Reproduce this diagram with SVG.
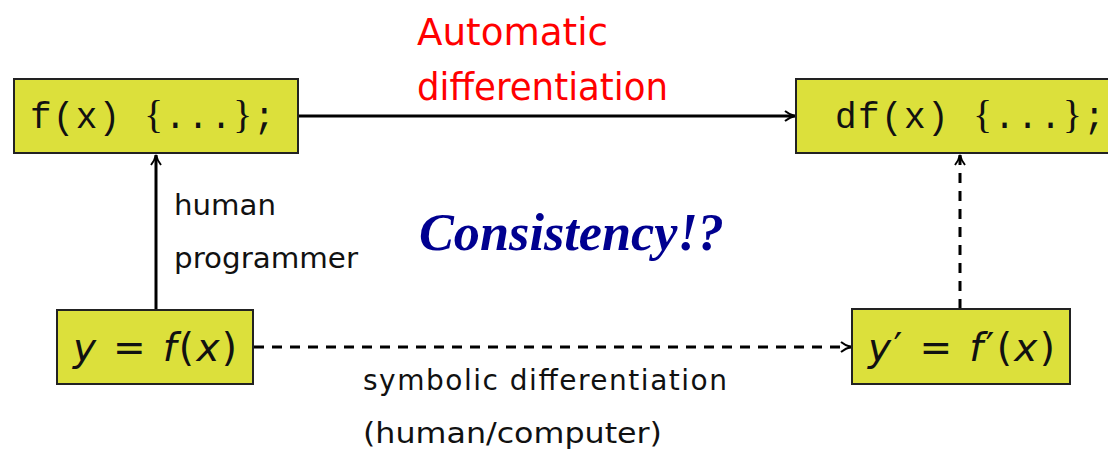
<svg xmlns="http://www.w3.org/2000/svg" width="1108" height="452" viewBox="0 0 1108 452">
<defs>
<style>
.box{fill:#dce03b;stroke:#222;stroke-width:2}
.code{font-family:"Liberation Mono","DejaVu Sans Mono",monospace;font-size:36px;fill:#111}
.br{font-family:"Liberation Serif","DejaVu Serif",serif;font-size:40px}
.lbl{font-family:"DejaVu Sans","Liberation Sans",sans-serif;font-size:28px;fill:#111}
.math{font-family:"DejaVu Sans","Liberation Sans",sans-serif;font-size:39px;fill:#111}
.red{font-family:"DejaVu Sans","Liberation Sans",sans-serif;font-size:37px;fill:#ff0000}
.ln{stroke:#000;stroke-width:3;fill:none}
.dash{stroke-dasharray:10 8}
</style>
<marker id="ah" viewBox="0 0 12 12" refX="11" refY="6" markerWidth="12" markerHeight="12" markerUnits="userSpaceOnUse" orient="auto">
<path d="M1,1 Q6,5 11,6 Q6,7 1,11" fill="none" stroke="#000" stroke-width="2"/>
</marker>
</defs>
<g id="connectors">
<line class="ln" x1="298" y1="116" x2="795" y2="116" marker-end="url(#ah)"/>
<line class="ln" x1="156" y1="310" x2="156" y2="155" marker-end="url(#ah)"/>
<line class="ln dash" x1="960" y1="309" x2="960" y2="155" marker-end="url(#ah)"/>
<line class="ln dash" x1="254" y1="347" x2="851" y2="347" marker-end="url(#ah)"/>
</g>
<g id="node-f">
<rect class="box" x="14" y="79" width="284" height="74"/>
<text class="code" x="30" y="128" textLength="245" lengthAdjust="spacing">f(x) <tspan class="br">{</tspan>...<tspan class="br">}</tspan>;</text>
</g>
<g id="node-df">
<rect class="box" x="796" y="79" width="330" height="74"/>
<text class="code" x="835" y="128" textLength="270" lengthAdjust="spacing">df(x) <tspan class="br">{</tspan>...<tspan class="br">}</tspan>;</text>
</g>
<g id="node-y">
<rect class="box" x="57" y="310" width="196" height="74"/>
<text class="math" x="73" y="361" textLength="164" lengthAdjust="spacing"><tspan font-style="italic">y</tspan> = <tspan font-style="italic">f</tspan>(<tspan font-style="italic">x</tspan>)</text>
</g>
<g id="node-yp">
<rect class="box" x="852" y="309" width="218" height="75"/>
<text class="math" x="868" y="361" textLength="187" lengthAdjust="spacing"><tspan font-style="italic">y</tspan>′ = <tspan font-style="italic">f</tspan>′(<tspan font-style="italic">x</tspan>)</text>
</g>
<g id="labels">
<text class="red" x="417" y="45" textLength="191" lengthAdjust="spacingAndGlyphs">Automatic</text>
<text class="red" x="417" y="100" textLength="251" lengthAdjust="spacingAndGlyphs">differentiation</text>
<text class="lbl" x="174" y="215" textLength="102" lengthAdjust="spacingAndGlyphs">human</text>
<text class="lbl" x="174" y="268" textLength="184" lengthAdjust="spacingAndGlyphs">programmer</text>
<text x="419" y="250" font-family="Liberation Serif,serif" font-size="52" font-weight="bold" font-style="italic" fill="#000090" textLength="305" lengthAdjust="spacingAndGlyphs">Consistency!?</text>
<text class="lbl" x="363" y="390" textLength="364" lengthAdjust="spacing">symbolic differentiation</text>
<text class="lbl" x="363" y="443" textLength="299" lengthAdjust="spacingAndGlyphs">(human/computer)</text>
</g>
</svg>
